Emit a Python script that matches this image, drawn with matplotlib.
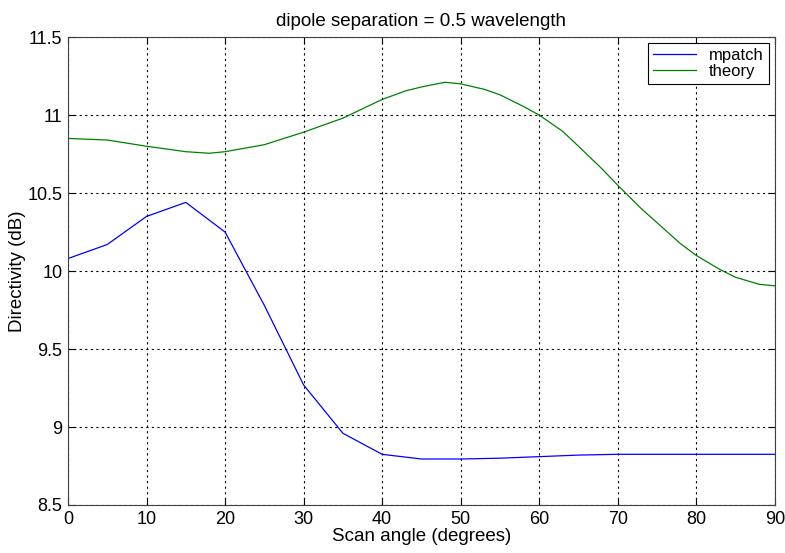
import matplotlib.pyplot as plt

plt.rcParams['font.family'] = ['Liberation Sans', 'DejaVu Sans']

# mpatch: computed at 5 degree steps
ang_mp = [0, 5, 10, 15, 20, 25, 30, 35, 40, 45, 50, 55, 60, 65, 70, 75, 80, 85, 90]
dir_mp = [10.08, 10.17, 10.35, 10.44, 10.25, 9.78, 9.27, 8.96, 8.825, 8.795, 8.795,
          8.80, 8.81, 8.82, 8.825, 8.825, 8.825, 8.825, 8.825]

# theory curve
ang_th = [0, 5, 10, 15, 18, 20, 25, 30, 35, 40, 43, 45, 48, 50, 53, 55, 58, 60, 63, 65,
          68, 70, 73, 75, 78, 80, 83, 85, 88, 90]
dir_th = [10.85, 10.84, 10.80, 10.765, 10.755, 10.765, 10.81, 10.89, 10.98, 11.10,
          11.155, 11.18, 11.21, 11.20, 11.165, 11.13, 11.055, 11.0, 10.895, 10.80,
          10.655, 10.55, 10.40, 10.31, 10.175, 10.10, 10.01, 9.96, 9.915, 9.905]

fig = plt.figure(figsize=(7.85, 5.53), dpi=100)
ax = fig.add_axes([0.0866, 0.0868, 0.9004, 0.8462])

ax.plot(ang_mp, dir_mp, color='#0000ff', lw=0.9, label='mpatch')
ax.plot(ang_th, dir_th, color='#008000', lw=0.9, label='theory')

ax.set_xlim(0, 90)
ax.set_ylim(8.5, 11.5)
ax.set_xticks(range(0, 91, 10))
ax.set_yticks([8.5, 9, 9.5, 10, 10.5, 11, 11.5])
ax.set_yticklabels(['8.5', '9', '9.5', '10', '10.5', '11', '11.5'])
ax.grid(True, color='black', linestyle=(0, (2, 3)), linewidth=0.8)
ax.tick_params(direction='in', top=True, right=True, length=5, labelsize=13, pad=4)
for s in ax.spines.values():
    s.set_color('#404040')

ax.set_xlabel('Scan angle (degrees)', fontsize=13.5, labelpad=0)
ax.set_ylabel('Directivity (dB)', fontsize=13.5, labelpad=1)
ax.set_title('dipole separation = 0.5 wavelength', fontsize=13.5, pad=8)

leg = ax.legend(loc='upper right', fontsize=12, fancybox=False, framealpha=1,
                edgecolor='black', borderaxespad=0.35, handlelength=2.6,
                borderpad=0.3, labelspacing=0.05)
leg.get_frame().set_linewidth(0.8)

fig.savefig('out.png', dpi=100)
